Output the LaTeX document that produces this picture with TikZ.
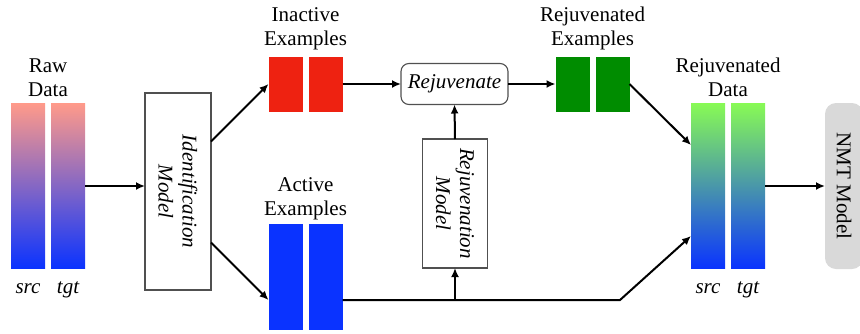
\documentclass[tikz,border=0pt]{standalone}
\usepackage{fontspec}
\setmainfont{Liberation Serif}
\newcommand*{\figfont}{\fontsize{21}{24}\selectfont}
\definecolor{inred}{RGB}{238,34,17}
\definecolor{actblue}{RGB}{10,51,255}
\definecolor{rejgreen}{RGB}{0,140,0}
\definecolor{rawtop}{RGB}{255,154,138}
\definecolor{newtop}{RGB}{136,250,85}
\definecolor{nmtgrey}{RGB}{217,217,217}
\definecolor{boxgrey}{RGB}{80,80,80}
\usetikzlibrary{arrows.meta}
\usetikzlibrary{positioning}
\tikzstyle{base}=[inner sep=0pt, outer sep=0pt, font=\figfont]
\tikzstyle{bar}=[base, minimum width=34pt]
\tikzstyle{tallbar}=[bar, minimum height=165pt]
\tikzstyle{shortbar}=[bar, minimum height=55pt]
\tikzstyle{model}=[base, draw=boxgrey, line width=1.1pt, fill=white, align=center, font=\figfont\itshape]
\tikzstyle{lbl}=[base, align=center, anchor=south]
\tikzstyle{tag}=[base, anchor=base, font=\figfont\itshape]
\tikzstyle{arr}=[-{Latex[length=9pt,width=8pt]}, line width=2pt]

\begin{document}
\begin{tikzpicture}[x=1pt, y=-1pt]
    \useasboundingbox (0,0) rectangle (860,333);
    % raw data
    \node [tallbar, top color=rawtop, bottom color=actblue] (raw1) at (28,186) {};
    \node [tallbar, top color=rawtop, bottom color=actblue] (raw2) at (68,186) {};
    \node [lbl] (rawlbl) at (48,97) {Raw\\Data};
    \node [tag] (rawsrc) at ([yshift=-24.5pt]raw1.south) {src};
    \node [tag] (rawtgt) at ([yshift=-24.5pt]raw2.south) {tgt};
    % identification
    \node [model, rotate=-90, minimum width=197pt, minimum height=66pt] (ident) at (178,191.5) {Identification\\Model};
    % inactive / active
    \node [shortbar, fill=inred] (in1) at (285.5,84) {};
    \node [shortbar, fill=inred] (in2) at (325.5,84) {};
    \node [lbl] (inlbl) at (305.5,50) {Inactive\\Examples};
    \node [bar, minimum height=106pt, fill=actblue] (act1) at (285.5,277) {};
    \node [bar, minimum height=106pt, fill=actblue] (act2) at (325.5,277) {};
    \node [lbl] (actlbl) at (305.5,219.5) {Active\\Examples};
    % rejuvenation
    \node [model, rounded corners=8pt, minimum width=107pt, minimum height=41pt] (rejuv) at (454.5,84) {Rejuvenate};
    \node [model, rotate=-90, minimum width=129pt, minimum height=65pt] (rejm) at (455,203.5) {Rejuvenation\\Model};
    \node [shortbar, fill=rejgreen] (rg1) at (572.5,84) {};
    \node [shortbar, fill=rejgreen] (rg2) at (612.5,84) {};
    \node [lbl] (rglbl) at (592.5,50) {Rejuvenated\\Examples};
    % rejuvenated data
    \node [tallbar, top color=newtop, bottom color=actblue] (new1) at (708,186) {};
    \node [tallbar, top color=newtop, bottom color=actblue] (new2) at (748,186) {};
    \node [lbl] (newlbl) at (728,97) {Rejuvenated\\Data};
    \node [tag] (newsrc) at ([yshift=-24.5pt]new1.south) {src};
    \node [tag] (newtgt) at ([yshift=-24.5pt]new2.south) {tgt};
    % nmt
    \node [base, fill=nmtgrey, rounded corners=11pt, rotate=-90, minimum width=166pt, minimum height=38pt] (nmt) at (844,186) {NMT Model};
    % connectors
    \coordinate (bend) at (620,300);
    \coordinate (tap) at (rejm.east |- bend);
    \draw [arr] (raw2.east) -- (raw2.east -| ident.south);
    \draw [arr] ([yshift=50pt]ident.north) -- (in1.west);
    \draw [arr] ([yshift=-51pt]ident.north) -- ([yshift=-23pt]act1.west);
    \draw [arr] (in2.east) -- (rejuv.west);
    \draw [arr] (rejuv.east) -- (rg1.west);
    \draw [arr] (rg2.east) -- ([yshift=41pt]new1.west);
    \draw [arr] ([yshift=-23pt]act2.east) -- (bend) -- ([yshift=-50pt]new1.west);
    \draw [arr] (tap) -- (rejm.east);
    \draw [arr] (rejm.west) -- (rejuv.south);
    \draw [arr] (new2.east) -- (nmt.south);
\end{tikzpicture}
\end{document}
